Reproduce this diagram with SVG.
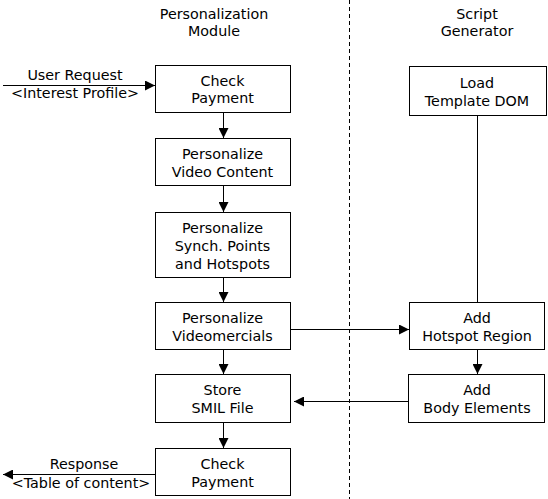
<svg xmlns="http://www.w3.org/2000/svg" width="548" height="499" viewBox="0 0 548 499">
<style>
.box{fill:#fff;stroke:#000;stroke-width:1}
.t{font-family:"DejaVu Sans",sans-serif;font-size:14.3px;fill:#000;text-anchor:middle}
.ln{stroke:#000;stroke-width:1;fill:none}
</style>
<defs>
<marker id="ah" markerWidth="10" markerHeight="10" refX="10" refY="5" orient="auto" markerUnits="userSpaceOnUse">
<path d="M0,0 L10,5 L0,10 Z" fill="#000"/>
</marker>
</defs>
<rect width="548" height="499" fill="#fff"/>
<g id="headers">
<text class="t" x="214" y="19">Personalization</text>
<text class="t" x="214" y="36">Module</text>
<text class="t" x="477" y="19">Script</text>
<text class="t" x="477" y="36">Generator</text>
</g>
<line x1="349.5" y1="0" x2="349.5" y2="499" stroke="#000" stroke-dasharray="4,3"/>
<g id="connectors">
<line class="ln" x1="3" y1="85.5" x2="155" y2="85.5" marker-end="url(#ah)"/>
<line class="ln" x1="223.5" y1="112" x2="223.5" y2="138" marker-end="url(#ah)"/>
<line class="ln" x1="223.5" y1="185" x2="223.5" y2="212" marker-end="url(#ah)"/>
<line class="ln" x1="223.5" y1="277" x2="223.5" y2="302" marker-end="url(#ah)"/>
<line class="ln" x1="223.5" y1="349" x2="223.5" y2="374" marker-end="url(#ah)"/>
<line class="ln" x1="223.5" y1="422" x2="223.5" y2="448" marker-end="url(#ah)"/>
<line class="ln" x1="290" y1="329.5" x2="409" y2="329.5" marker-end="url(#ah)"/>
<line class="ln" x1="477.5" y1="115" x2="477.5" y2="302"/>
<line class="ln" x1="477.5" y1="349" x2="477.5" y2="374" marker-end="url(#ah)"/>
<line class="ln" x1="408" y1="401.5" x2="294" y2="401.5" marker-end="url(#ah)"/>
<line class="ln" x1="155" y1="474.5" x2="3" y2="474.5" marker-end="url(#ah)"/>
<text class="t" x="75" y="80">User Request</text>
<text class="t" x="75" y="98">&lt;Interest Profile&gt;</text>
<text class="t" x="84" y="469">Response</text>
<text class="t" x="81" y="488">&lt;Table of content&gt;</text>
</g>
<g id="checkPayment1"><rect class="box" x="155.5" y="65.5" width="135" height="47"/><text class="t" x="222.5" y="86">Check</text><text class="t" x="222.5" y="103">Payment</text></g>
<g id="personalizeVideo"><rect class="box" x="155.5" y="138.5" width="135" height="47"/><text class="t" x="222.5" y="159">Personalize</text><text class="t" x="222.5" y="177">Video Content</text></g>
<g id="personalizeSynch"><rect class="box" x="155.5" y="212.5" width="135" height="65"/><text class="t" x="222.5" y="233">Personalize</text><text class="t" x="222.5" y="251">Synch. Points</text><text class="t" x="222.5" y="269">and Hotspots</text></g>
<g id="personalizeVideomercials"><rect class="box" x="155.5" y="302.5" width="135" height="47"/><text class="t" x="222.5" y="323">Personalize</text><text class="t" x="222.5" y="341">Videomercials</text></g>
<g id="storeSmil"><rect class="box" x="155.5" y="374.5" width="135" height="48"/><text class="t" x="222.5" y="395">Store</text><text class="t" x="222.5" y="413">SMIL File</text></g>
<g id="checkPayment2"><rect class="box" x="155.5" y="448.5" width="135" height="47"/><text class="t" x="222.5" y="469">Check</text><text class="t" x="222.5" y="487">Payment</text></g>
<g id="loadTemplate"><rect class="box" x="409.5" y="66.5" width="137" height="49"/><text class="t" x="477" y="88">Load</text><text class="t" x="477" y="106">Template DOM</text></g>
<g id="addHotspot"><rect class="box" x="409.5" y="302.5" width="135" height="47"/><text class="t" x="477" y="323">Add</text><text class="t" x="477" y="341">Hotspot Region</text></g>
<g id="addBody"><rect class="box" x="408.5" y="374.5" width="136" height="48"/><text class="t" x="477" y="395">Add</text><text class="t" x="477" y="413">Body Elements</text></g>
</svg>
